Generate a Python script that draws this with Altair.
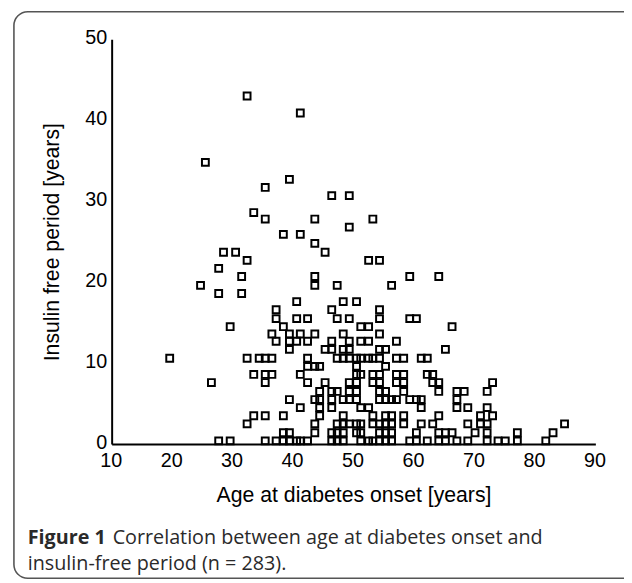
import altair as alt
import pandas as pd

# Insulin-free period levels (years) and the ages at onset found on each level
period_levels = [43.0, 40.9, 34.8, 32.7, 31.7, 30.7, 28.6, 27.8, 26.8, 25.9,
                 24.8, 23.7, 22.7, 21.7, 20.7, 19.6, 18.6, 17.6, 16.6, 15.5,
                 14.5, 13.6, 12.7, 11.7, 10.6, 9.6, 8.6, 7.6, 6.5, 5.5,
                 4.5, 3.5, 2.5, 1.4, 0.4]
ages_by_level = [
    [32.4],
    [41.2],
    [25.5],
    [39.4],
    [35.4],
    [46.4, 49.3],
    [33.5],
    [35.4, 43.6, 53.2],
    [49.3],
    [38.4, 41.2],
    [43.6],
    [28.5, 30.5, 45.3],
    [32.4, 52.5, 54.3],
    [27.7],
    [31.5, 43.6, 59.3, 64.1],
    [24.7, 43.6, 47.3, 56.3],
    [27.7, 31.5],
    [40.6, 48.3, 50.5],
    [37.2, 46.4, 54.3],
    [37.2, 40.6, 42.4, 47.3, 49.3, 54.3, 59.3, 60.4],
    [29.6, 38.4, 51.2, 52.5, 66.3],
    [36.5, 39.4, 41.2, 43.6, 48.3, 54.3],
    [37.2, 39.4, 40.6, 42.4, 46.4, 49.3, 51.2, 52.5, 57.1],
    [39.4, 45.3, 46.4, 48.3, 49.3, 54.3, 55.3, 65.2],
    [19.6, 32.4, 34.4, 35.4, 36.5, 42.4, 47.3, 48.3, 49.3, 50.5, 51.2, 52.5,
     53.2, 54.3, 57.1, 58.3, 61.2, 62.2],
    [42.4, 43.6, 44.4, 50.5, 55.3],
    [33.5, 35.4, 36.5, 41.2, 50.5, 51.2, 53.2, 54.3, 57.1, 58.3, 62.2, 63.1],
    [26.5, 35.4, 42.4, 45.3, 49.3, 50.5, 53.2, 54.3, 57.1, 58.3, 63.1, 64.1, 73.0],
    [44.4, 46.4, 47.3, 49.3, 50.5, 54.3, 55.3, 58.3, 64.1, 67.1, 68.3, 72.1],
    [39.4, 43.6, 44.4, 46.4, 48.3, 49.3, 50.5, 54.3, 55.3, 56.3, 57.1, 59.3,
     60.4, 61.2, 67.1],
    [41.2, 44.4, 46.4, 51.2, 52.5, 61.2, 67.1, 68.9, 72.1],
    [33.5, 35.4, 38.4, 44.4, 48.3, 53.2, 55.3, 56.3, 58.3, 64.1, 71.0, 73.0],
    [32.4, 43.6, 47.3, 48.3, 49.3, 50.5, 51.2, 53.2, 54.3, 55.3, 56.3, 58.3,
     61.2, 63.1, 68.9, 71.0, 72.1, 84.9],
    [38.4, 39.4, 43.6, 46.4, 47.3, 48.3, 50.5, 51.2, 54.3, 55.3, 56.3, 60.4,
     64.1, 65.2, 66.3, 70.1, 72.1, 77.1, 83.0],
    [27.7, 29.6, 35.4, 37.2, 38.4, 39.4, 40.6, 41.2, 42.4, 46.4, 47.3, 48.3,
     51.2, 52.5, 53.2, 54.3, 55.3, 56.3, 59.3, 60.4, 62.2, 64.1, 65.2, 67.1,
     68.9, 72.1, 73.9, 75.1, 77.1, 81.8],
]

x_ticks = [10, 20, 30, 40, 50, 60, 70, 80, 90]
y_ticks = [0, 10, 20, 30, 40, 50]
x_title = "Age at diabetes onset [years]"
y_title = "Insulin free period [years]"
caption_bold = "Figure 1"
caption_line1 = "Correlation between age at diabetes onset and"
caption_line2 = "insulin-free period (n = 283)."

rows = []
for p, ages in zip(period_levels, ages_by_level):
    for a in ages:
        rows.append({"age": a, "period": p})
df = pd.DataFrame(rows)

W, H = 490, 410
one = pd.DataFrame({"k": [0]})

points = alt.Chart(df).mark_point(
    shape="square", filled=False, size=48, strokeWidth=2,
    color="black", opacity=1
).encode(
    x=alt.X("age:Q",
            scale=alt.Scale(domain=[10, 90], nice=False, zero=False),
            axis=alt.Axis(values=x_ticks, title=x_title, labelPadding=7,
                          labelOffset=-1, titlePadding=14,
                          labelFlush=False, labelOverlap=False)),
    y=alt.Y("period:Q",
            scale=alt.Scale(domain=[0, 50], nice=False),
            axis=alt.Axis(values=y_ticks, title=y_title, labelPadding=5,
                          labelOffset=-2, titlePadding=22,
                          labelFlush=False, labelOverlap=False)),
)

border = alt.Chart(one).mark_rect(
    cornerRadius=14, fillOpacity=0, fill="white", stroke="#555555", strokeWidth=1.6
).encode(x=alt.value(-99), x2=alt.value(540), y=alt.value(-28), y2=alt.value(546))

cap_bold = alt.Chart(one).mark_text(
    align="left", baseline="middle", font="Open Sans", fontSize=20,
    fontWeight="bold", color="#2a2a2a"
).encode(x=alt.value(-85), y=alt.value(505), text=alt.value(caption_bold))

cap1 = alt.Chart(one).mark_text(
    align="left", baseline="middle", font="Open Sans", fontSize=20,
    color="#2a2a2a"
).encode(x=alt.value(1), y=alt.value(505), text=alt.value(caption_line1))

cap2 = alt.Chart(one).mark_text(
    align="left", baseline="middle", font="Open Sans", fontSize=20,
    color="#2a2a2a"
).encode(x=alt.value(-85), y=alt.value(532), text=alt.value(caption_line2))

chart = alt.layer(border, points, cap_bold, cap1, cap2).properties(
    width=W, height=H,
    autosize=alt.AutoSizeParams(type="none"),
    padding={"left": 105, "top": 28, "right": 29, "bottom": 137},
).configure_view(stroke=None).configure_axis(
    grid=False, ticks=False, domainColor="black", domainWidth=2,
    labelFont="Liberation Sans", labelFontSize=20, labelColor="black",
    titleFont="Liberation Sans", titleFontSize=21.5, titleFontWeight="normal",
    titleColor="black"
)

chart.save("out.html", embed_options={"renderer": "svg", "actions": False})
